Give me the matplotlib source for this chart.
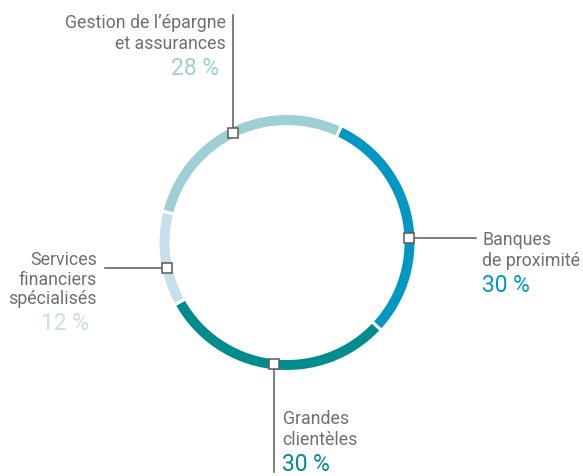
import matplotlib
matplotlib.use("Agg")
import matplotlib.pyplot as plt
import numpy as np

# Répartition par métier
labels = ["Banques\nde proximité", "Grandes\nclientèles",
          "Services\nfinanciers\nspécialisés", "Gestion de l’épargne\net assurances"]
shares = [30, 30, 12, 28]
colors = ["#0098c3", "#008b8f", "#c6dfec", "#9ecfd5"]

W, H = 583, 476
FONT = ["Roboto", "DejaVu Sans"]
GREY_TXT = "#6f7072"
GREY_LINE = "#5a5a5a"

fig = plt.figure(figsize=(W / 100, H / 100), dpi=100)
ax = fig.add_axes([0, 0, 1, 1])

cx, cy, R, ring = 287, H - 242.5, 129, 13
ax.pie(shares, colors=colors, startangle=65, counterclock=False,
       center=(cx, cy), radius=R,
       wedgeprops=dict(width=ring, edgecolor="white", linewidth=2.2))
ax.set_xlim(0, W)
ax.set_ylim(0, H)
ax.set_aspect("equal")
ax.axis("off")

# angle of each callout on the ring (degrees, ccw from east)
callout_angle = [2, 264, 192.2, 116.2]
rm = R - ring / 2

def mark(theta):
    t = np.radians(theta)
    return cx + rm * np.cos(t), cy + rm * np.sin(t)

def block(lines, pct, color, x, base, ha, pct_x=None, step=20.5, pct_gap=26):
    for i, ln in enumerate(lines):
        ax.text(x, base - i * step, ln, ha=ha, va="baseline", fontsize=12.8,
                color=GREY_TXT, family=FONT)
    ax.text(pct_x if pct_x is not None else x, base - (len(lines) - 1) * step - pct_gap,
            f"{pct} %", ha=ha, va="baseline", fontsize=16.5, color=color, family=FONT)

# Banques de proximité : trait horizontal vers la droite
mx, my = mark(callout_angle[0])
ax.plot([mx, 476], [my, my], color=GREY_LINE, lw=1.1, zorder=3)
block(labels[0].split("\n"), shares[0], colors[0], 482.5, H - 245, "left")

# Grandes clientèles : trait vertical vers le bas
mx, my = mark(callout_angle[1])
ax.plot([mx, mx], [my, H - 472], color=GREY_LINE, lw=1.1, zorder=3)
block(labels[1].split("\n"), shares[1], colors[1], 282.5, H - 424, "left",
      step=21, pct_gap=26)

# Services financiers spécialisés : trait horizontal vers la gauche
mx, my = mark(callout_angle[2])
ax.plot([105, mx], [my, my], color=GREY_LINE, lw=1.1, zorder=3)
block(labels[2].split("\n"), shares[2], colors[2], 97, H - 265, "right",
      pct_x=89.5, step=19.7)

# Gestion de l'épargne : trait vertical vers le haut
mx, my = mark(callout_angle[3])
ax.plot([mx, mx], [my, H - 15], color=GREY_LINE, lw=1.1, zorder=3)
block(labels[3].split("\n"), shares[3], colors[3], 226, H - 28, "right",
      pct_x=219, step=21)

# petits carrés blancs sur l'anneau
for th in callout_angle:
    mx, my = mark(th)
    ax.plot(mx, my, marker="s", ms=6.5, mfc="white", mec=GREY_LINE, mew=1.1,
            zorder=4)

fig.savefig("out.png", dpi=100)
